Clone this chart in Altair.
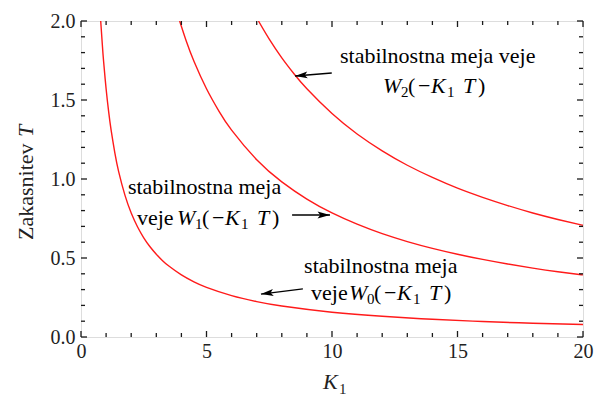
import altair as alt
import pandas as pd

# ---- curve readings (K1, T) ----
k_w0 = [0.785, 0.85, 0.9, 1.0, 1.1, 1.2, 1.35, 1.5, 1.75, 2.0, 2.25, 2.5, 2.75, 3.0, 3.25, 3.5, 4.0, 4.5, 5.0, 6.0, 7.0, 8.0, 10.0, 12.0, 14.0, 16.0, 18.0, 20.0]
t_w0 = [2.0, 1.85, 1.745, 1.571, 1.428, 1.309, 1.164, 1.047, 0.898, 0.785, 0.698, 0.628, 0.571, 0.524, 0.483, 0.449, 0.393, 0.349, 0.314, 0.262, 0.224, 0.196, 0.157, 0.131, 0.112, 0.098, 0.087, 0.079]
k_w1 = [3.93, 4.2, 4.5, 5.0, 5.5, 6.0, 7.0, 8.0, 9.0, 10.0, 11.0, 12.0, 13.0, 14.0, 15.0, 16.0, 17.0, 18.0, 19.0, 20.0]
t_w1 = [2.0, 1.87, 1.745, 1.571, 1.428, 1.309, 1.122, 0.982, 0.873, 0.785, 0.714, 0.654, 0.604, 0.561, 0.524, 0.491, 0.462, 0.436, 0.413, 0.393]
k_w2 = [7.07, 7.5, 8.0, 8.5, 9.0, 10.0, 11.0, 12.0, 13.0, 14.0, 15.0, 16.0, 17.0, 18.0, 19.0, 20.0]
t_w2 = [2.0, 1.885, 1.767, 1.663, 1.571, 1.414, 1.285, 1.178, 1.087, 1.01, 0.942, 0.884, 0.832, 0.785, 0.744, 0.707]

x_tick_labels = [0, 5, 10, 15, 20]
y_tick_labels = [0.0, 0.5, 1.0, 1.5, 2.0]
x_minor = [1, 2, 3, 4, 6, 7, 8, 9, 11, 12, 13, 14, 16, 17, 18, 19]
y_minor = [0.1, 0.2, 0.3, 0.4, 0.6, 0.7, 0.8, 0.9, 1.1, 1.2, 1.3, 1.4, 1.6, 1.7, 1.8, 1.9]

# annotations: anchor (K, T) at left of "W" on second line
ann_anchor_k = [12.03, 3.82, 10.68]
ann_anchor_t = [1.544, 0.709, 0.234]
ann_line1 = ["stabilnostna meja veje", "stabilnostna meja", "stabilnostna meja"]
ann_prefix = ["", "veje", "veje"]
ann_sub = ["2", "1", "0"]

# arrows (tail -> tip) in data units
arr_k = [9.99, 8.41, 8.84]
arr_t = [1.671, 0.772, 0.304]
arr_k2 = [8.53, 9.92, 7.17]
arr_t2 = [1.652, 0.772, 0.272]

FONT = "Liberation Serif"
W, H = 502, 316
XMIN, XMAX, YMIN, YMAX = 0, 20, 0, 2
RED = "#ff1a1a"

xs = alt.Scale(domain=[XMIN, XMAX], nice=False, zero=False)
ys = alt.Scale(domain=[YMIN, YMAX], nice=False, zero=False)
xaxis = alt.Axis(values=x_tick_labels, ticks=False, domain=False, grid=False, title=None,
                 labelFont=FONT, labelFontSize=20, labelColor="#222", labelFlush=False,
                 labelPadding=4)
yaxis = alt.Axis(values=y_tick_labels, format=".1f", ticks=False, domain=False, grid=False,
                 title=None, labelFont=FONT, labelFontSize=20, labelColor="#222",
                 labelPadding=6, labelFlush=False)


def X(f="k"):
    return alt.X(f + ":Q", scale=xs, axis=xaxis)


def Y(f="t"):
    return alt.Y(f + ":Q", scale=ys, axis=yaxis)


rows = []
for name, ks, ts in [("W0", k_w0, t_w0), ("W1", k_w1, t_w1), ("W2", k_w2, t_w2)]:
    for i, (k, t) in enumerate(zip(ks, ts)):
        rows.append({"k": k, "t": t, "s": name, "o": i})
curves_df = pd.DataFrame(rows)

layers = []
layers.append(
    alt.Chart(curves_df).mark_line(color=RED, strokeWidth=1.4, interpolate="natural", clip=True)
    .encode(x=X(), y=Y(), detail="s:N", order="o:Q")
)

# inward frame ticks: tick length given in pixels, converted to data units
MAJ, MIN = 6, 4
px_t = (YMAX - YMIN) / H
px_k = (XMAX - XMIN) / W
trows = []
for vals, ln in [(x_tick_labels, MAJ), (x_minor, MIN)]:
    for v in vals:
        trows.append({"k": float(v), "k2": float(v), "t": float(YMIN), "t2": YMIN + ln * px_t})
        trows.append({"k": float(v), "k2": float(v), "t": float(YMAX), "t2": YMAX - ln * px_t})
for vals, ln in [(y_tick_labels, MAJ), (y_minor, MIN)]:
    for v in vals:
        trows.append({"k": float(XMIN), "k2": XMIN + ln * px_k, "t": float(v), "t2": float(v)})
        trows.append({"k": float(XMAX), "k2": XMAX - ln * px_k, "t": float(v), "t2": float(v)})
ticks_df = pd.DataFrame(trows)
layers.append(alt.Chart(ticks_df).mark_rule(color="#1a1a1a", strokeWidth=1.3, opacity=1)
              .encode(x=X(), y=Y(), x2="k2:Q", y2="t2:Q"))

# arrows
arr_df = pd.DataFrame({"k": arr_k, "t": arr_t, "k2": arr_k2, "t2": arr_t2})
layers.append(alt.Chart(arr_df).mark_rule(color="black", strokeWidth=1.3)
              .encode(x=X(), y=Y(), x2="k2:Q", y2="t2:Q"))
head_angles = [265, 90, 263]
HEAD = "M0,0L-0.28,1L0,0.78L0.28,1Z"
for i in range(3):
    d = pd.DataFrame({"k": [arr_k2[i]], "t": [arr_t2[i]]})
    layers.append(alt.Chart(d).mark_point(shape=HEAD, filled=True, color="black", opacity=1,
                                          size=620, angle=head_angles[i], strokeWidth=0)
                  .encode(x=X(), y=Y()))

# annotation text pieces: (text, dx, dy, style, size)
F = 22
FS = 15
line1_dx = [-43, -49, -45]
line1_dy = [-30, -31, -27]
prefix_dx = [0, -40, -38]
for i in range(3):
    d = pd.DataFrame({"k": [ann_anchor_k[i]], "t": [ann_anchor_t[i]]})
    pieces = [
        (ann_line1[i], line1_dx[i], line1_dy[i], "normal", F),
        ("W", 0, 0, "italic", F),
        (ann_sub[i], 18, 4, "normal", FS),
        ("(", 25, 0, "normal", F),
        ("\u2212", 35, 0, "normal", F),
        ("K", 48, 0, "italic", F),
        ("1", 64, 4, "normal", FS),
        ("T", 80, 0, "italic", F),
        (")", 95, 0, "normal", F),
    ]
    if ann_prefix[i]:
        pieces.append((ann_prefix[i], prefix_dx[i], 0, "normal", F))
    for txt, dx, dy, style, size in pieces:
        layers.append(alt.Chart(d).mark_text(align="left", baseline="alphabetic", dx=dx, dy=dy,
                                             font=FONT, fontSize=size, fontStyle=style,
                                             color="black")
                      .encode(x=X(), y=Y(), text=alt.value(txt)))

# axis titles
one = pd.DataFrame({"a": [0]})
layers.append(alt.Chart(one).mark_text(align="left", baseline="alphabetic", font=FONT, fontSize=22,
                                       fontStyle="italic", color="#222")
              .encode(x=alt.value(242), y=alt.value(368), text=alt.value("K")))
layers.append(alt.Chart(one).mark_text(align="left", baseline="alphabetic", font=FONT, fontSize=15,
                                       color="#222")
              .encode(x=alt.value(258), y=alt.value(373), text=alt.value("1")))
layers.append(alt.Chart(one).mark_text(align="left", baseline="alphabetic", font=FONT, fontSize=22,
                                       angle=270, color="#222")
              .encode(x=alt.value(-48), y=alt.value(219), text=alt.value("Zakasnitev ")))
layers.append(alt.Chart(one).mark_text(align="left", baseline="alphabetic", font=FONT, fontSize=22,
                                       angle=270, fontStyle="italic", color="#222")
              .encode(x=alt.value(-48), y=alt.value(116), text=alt.value("T")))

chart = alt.layer(*layers).properties(
    width=W, height=H,
    autosize=alt.AutoSizeParams(type="none"),
    padding={"left": 81, "top": 21, "right": 13, "bottom": 66},
).configure_view(stroke="#333", strokeWidth=1.2).configure(background="white")

chart.save("out.html", embed_options={"renderer": "svg", "actions": False})
